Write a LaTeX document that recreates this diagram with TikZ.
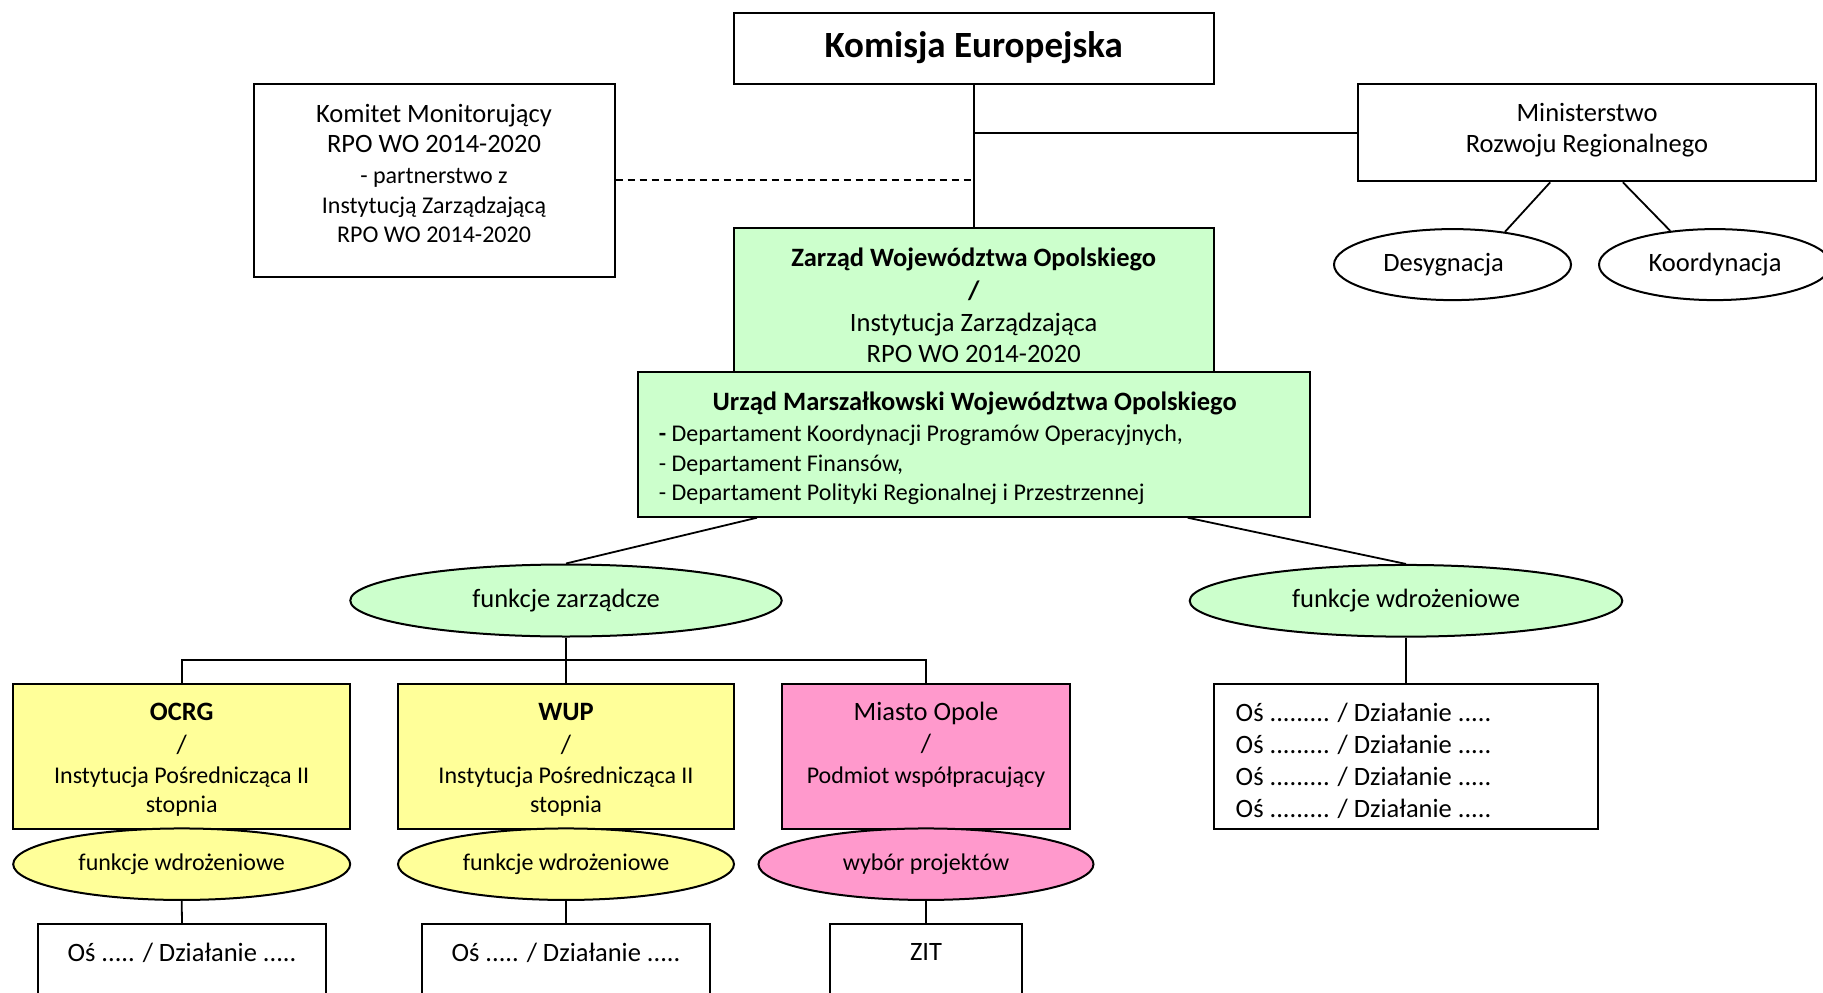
\documentclass[tikz,border=0pt]{standalone}
\usepackage{fontspec}
\setmainfont{Carlito}
\usetikzlibrary{shapes.geometric,calc}
\definecolor{lgreen}{HTML}{CCFFCC}
\definecolor{lyellow}{HTML}{FFFF99}
\definecolor{lpink}{HTML}{FF99CC}
\newcommand\nsz{\fontsize{26.5}{31.4}\selectfont}
\newcommand\ssz{\fontsize{24}{29}\selectfont}
\newcommand\bsz{\fontsize{37}{44}\selectfont}
\begin{document}
\begin{tikzpicture}[x=1pt,y=-1pt,
  box/.style={draw, line width=2pt, rectangle, inner sep=0pt},
  oval/.style={draw, line width=2pt, ellipse, inner sep=0pt, font=\nsz},
  txt/.style={inner sep=0pt, align=center, font=\nsz},
  link/.style={line width=1.8pt}]
\useasboundingbox (0,0) rectangle (1823,993);

% boxes
\node[box, minimum width=480, minimum height=71.2] (kom) at (973.7,48.4) {};
\node[box, minimum width=361, minimum height=192.7] (komitet) at (434,180.3) {};
\node[box, minimum width=458, minimum height=97] (min) at (1587,132.8) {};
\node[box, fill=lgreen, minimum width=480, minimum height=143.7] (zarzad) at (973.7,300.2) {};
\node[box, fill=lgreen, minimum width=671.6, minimum height=144.4] (urzad) at (974.2,444.5) {};
\node[box, fill=lyellow, minimum width=337, minimum height=144.5] (ocrg) at (181.7,756.3) {};
\node[box, fill=lyellow, minimum width=335.6, minimum height=144.5] (wup) at (566,756.3) {};
\node[box, fill=lpink, minimum width=288, minimum height=144.5] (miasto) at (926,756.3) {};
\node[box, minimum width=384.6, minimum height=144.5] (osbox) at (1406,756.3) {};
\node[box, minimum width=288, minimum height=100] (ocrgb) at (182,974) {};
\node[box, minimum width=288.2, minimum height=100] (wupb) at (566,974) {};
\node[box, minimum width=192, minimum height=100] (zit) at (926,974) {};

% ellipses
\node[oval, minimum width=237, minimum height=71] (desyg) at (1452.5,264.6) {};
\node[oval, minimum width=232, minimum height=71] (koord) at (1715,264.6) {Koordynacja};
\node[oval, fill=lgreen, minimum width=431.5, minimum height=72] (fz) at (566,600.5) {funkcje zarządcze};
\node[oval, fill=lgreen, minimum width=432.6, minimum height=71.7] (fw) at (1406,600.8) {funkcje wdrożeniowe};
\node[oval, fill=lyellow, font=\ssz, minimum width=337, minimum height=71.5] (ocrge) at (181.7,864.2) {funkcje wdrożeniowe};
\node[oval, fill=lyellow, font=\ssz, minimum width=336, minimum height=71.5] (wupe) at (566,864.2) {funkcje wdrożeniowe};
\node[oval, fill=lpink, font=\ssz, minimum width=335, minimum height=71.5] (wybore) at (926,864.2) {wybór projektów};

% connectors
\coordinate (j1) at (kom.south |- min.west);
\draw[link] (kom.south) -- (zarzad.north);
\draw[link] (j1) -- (min.west);
\draw[link, dash pattern=on 7pt off 5pt] (komitet.east) -- (kom.south |- komitet.east);
\draw[link] ($(min.south west)!0.42!(min.south east)$) -- (desyg.32);
\draw[link] ($(min.south west)!0.578!(min.south east)$) -- (koord.143);
\draw[link] ($(urzad.south west)!0.1776!(urzad.south east)$) -- (fz.north);
\draw[link] ($(urzad.south west)!0.8169!(urzad.south east)$) -- (fw.north);
\coordinate (bar) at ($(fz.south)!0.5!(wup.north)$);
\draw[link] (fz.south) -- (wup.north);
\draw[link] (ocrg.north) |- (bar) -| (miasto.north);
\draw[link] (fw.south) -- (osbox.north);
\draw[link] (ocrge.south) -- (ocrgb.north);
\draw[link] (wupe.south) -- (wupb.north);
\draw[link] (wybore.south) -- (zit.north);

% texts
\node[txt, font=\bsz\bfseries] (kom-t) at (973.7,47.7) {Komisja Europejska};
\node[txt] (komitet-t) at (434,173.5) {Komitet Monitorujący\\[-1.3pt]RPO WO 2014-2020\\[-0.5pt]\ssz - partnerstwo z\\[-1.5pt]\ssz Instytucją Zarządzającą\\[-3pt]\ssz RPO WO 2014-2020};
\node[txt] (min-t) at (1587,130.2) {Ministerstwo\\[0pt]Rozwoju Regionalnego};
\node[txt] (desyg-t) at (1443.6,264.6) {Desygnacja};
\node[txt, font=\nsz\bfseries] (zarzad-t) at (973.7,305.3) {Zarząd Województwa Opolskiego\\[1pt]/\\[1pt]\mdseries Instytucja Zarządzająca\\[-0.4pt]\mdseries RPO WO 2014-2020};
\node[txt, font=\nsz\bfseries] (urzad-t) at (974.7,403.3) {Urząd Marszałkowski Województwa Opolskiego};
\node[txt, font=\ssz, align=left, anchor=west] (urzad-d) at (658.6,464.8) {\textbf{-} Departament Koordynacji Programów Operacyjnych,\\[1pt]- Departament Finansów,\\[-0.6pt]- Departament Polityki Regionalnej i Przestrzennej};
\node[txt] (ocrg-t) at (181.7,759.6) {\bfseries OCRG\\[2pt]/\\[-1.4pt]\ssz Instytucja Pośrednicząca II\\[-3pt]\ssz stopnia};
\node[txt] (wup-t) at (566,759.6) {\bfseries WUP\\[2pt]/\\[-1.4pt]\ssz Instytucja Pośrednicząca II\\[-3pt]\ssz stopnia};
\node[txt] (miasto-t) at (926,745) {Miasto Opole\\/\\\ssz Podmiot współpracujący};
\node[txt, align=left, anchor=west, font=\fontsize{26.5}{32}\selectfont] (os-t) at (1235.5,761.3) {Oś ......... / Działanie .....\\Oś ......... / Działanie .....\\Oś ......... / Działanie .....\\Oś ......... / Działanie .....};
\node[txt] (ocrgb-t) at (182,953.3) {Oś ..... / Działanie .....};
\node[txt] (wupb-t) at (566,953.3) {Oś ..... / Działanie .....};
\node[txt] (zit-t) at (926,952.3) {ZIT};
\end{tikzpicture}
\end{document}
